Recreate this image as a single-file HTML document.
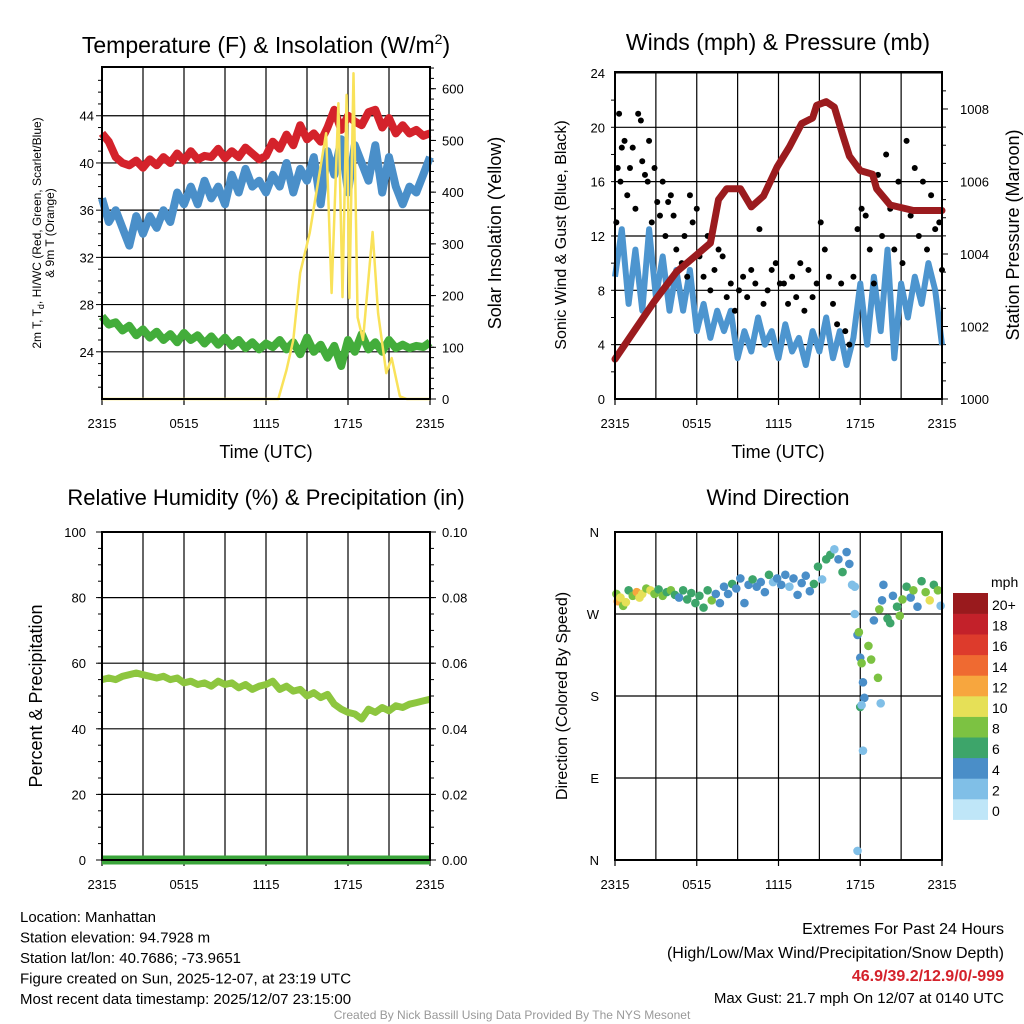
<!DOCTYPE html>
<html><head><meta charset="utf-8"><style>
html,body{margin:0;padding:0;background:#fff;}
svg{display:block;font-family:"Liberation Sans",sans-serif;}
</style></head><body>
<svg id="s" width="1024" height="1024" viewBox="0 0 1024 1024" xmlns="http://www.w3.org/2000/svg"></svg>
<script>
// ---------- DATA ----------
const hours = [0,.5,1,1.5,2,2.5,3,3.5,4,4.5,5,5.5,6,6.5,7,7.5,8,8.5,9,9.5,10,10.5,11,11.5,12,12.5,13,13.5,14,14.5,15,15.5,16,16.5,17,17.5,18,18.5,19,19.5,20,20.5,21,21.5,22,22.5,23,23.5,24];
const xTickLabels = ["2315","0515","1115","1715","2315"];
const tempRed = [42.5,41.8,40.5,40,39.8,40.2,39.6,40.3,39.8,40.5,40,40.8,40.2,41,40.3,40.6,40.5,41.2,40.4,41,40.5,41.3,40.8,40.3,40.6,41.8,41.2,42.4,41.5,43.2,42,42.5,41.8,43,44.5,42.8,44,43.5,43.2,44.3,44.5,43,43.8,42.5,43.2,42.5,42.8,42.3,42.5];
const tempBlue = [37,35,36,34.5,33,35.5,34,35.5,34.5,36,35,37.5,36.5,38,36.5,38.5,37,38,36.5,39,37.5,39.5,38,38.5,37.5,39,38,40,37.5,39.5,38.5,40.5,36.5,41,39,42,37.5,41.5,40,38.5,41.5,37.5,40.5,38,36.5,38,37.5,39,40.5];
const dewGreen = [27,26.3,26.5,25.8,26.2,25.4,25.9,25.2,25.7,25,25.5,24.8,25.6,25,25.4,24.7,25.3,24.6,25.2,24.5,25,24.3,24.8,24.2,24.7,24.4,25,24.2,24.8,23.8,25.2,24,24.6,23.5,24.5,22.8,25,24,25.5,24.2,24.8,24,25,24.3,24.6,24.3,24.5,24.4,24.8];
const tempTicks = [24,28,32,36,40,44];
const solarTicks = [0,100,200,300,400,500,600];
const solarT = [0,12.9,13.5,14.0,14.5,15.2,16.4,16.8,17.3,17.6,17.9,18.1,18.4,18.7,19.1,19.8,20.2,20.8,21.2,21.8,22.3,24];
const solarV = [0,0,56,114,244,321,514,205,572,197,588,195,630,158,114,323,166,50,79,5,0,0];
const windBlue = [9,12.5,7,11,6.5,12.5,7.5,10.5,6.5,9.5,6.5,9.5,5,7,4.5,6.5,5,6.5,3,5,3.5,6,4,5,3,5.5,3.5,4.5,2.5,5,3.5,6,3,5,2.5,4.5,8.5,4,9,5,11,3,8.5,6,9,7,10,8,4];
const pressT = [0,2.9,4.5,7.0,7.6,8.2,9.2,10.0,10.9,11.9,12.8,13.7,14.5,14.8,15.5,16.1,16.7,17.2,18.0,18.9,19.2,20.2,21.9,24];
const pressV = [1001.1,1002.7,1003.5,1004.3,1005.5,1005.8,1005.8,1005.3,1005.6,1006.4,1006.95,1007.6,1007.75,1008.1,1008.2,1008.05,1007.3,1006.7,1006.3,1006.2,1005.8,1005.35,1005.2,1005.2];
const gustT = [0.1,0.2,0.3,0.4,0.5,0.7,0.9,1.1,1.3,1.5,1.7,1.9,2.0,2.2,2.4,2.5,2.7,2.9,3.1,3.3,3.5,3.7,3.9,4.1,4.3,4.5,4.7,4.9,5.1,5.3,5.5,5.7,6.0,6.2,6.5,6.8,7.0,7.3,7.6,7.9,8.2,8.5,8.8,9.1,9.4,9.7,10.0,10.3,10.6,10.9,11.2,11.5,11.8,12.1,12.4,12.7,13.0,13.3,13.6,13.9,14.2,14.5,14.8,15.1,15.4,15.7,16.0,16.3,16.6,16.9,17.2,17.5,17.8,18.1,18.4,18.7,19.0,19.3,19.6,19.9,20.2,20.5,20.8,21.1,21.4,21.7,22.0,22.3,22.6,22.9,23.2,23.5,23.8,24];
const gustV = [13,17,21,16,18.5,19,15,17,18.5,14,21,20.5,17.5,16.5,16,19,13,17,14.5,13.5,16,12,14.5,15,13.5,11,9.5,10,12,9,15,13,14,10.5,9,12,8,9.5,11,10.5,7.5,8.5,6.5,8,9,7.5,9.5,8.5,12.5,7,8,9.5,10,8.5,8.5,7,9,7.5,10,6.5,9.5,7.5,8.5,13,11,9,7,5.5,8.5,5,4,9,12.5,14,13.5,11,8.5,16.5,12,18,14,11,16,10,19,13.5,17,12,16,11,15,12.5,13,9.5];
const windTicks = [0,4,8,12,16,20,24];
const pressTicks = [1000,1002,1004,1006,1008];
const rh = [55,55.5,55,56,56.5,57,56.5,56,55.5,56,55,55.5,54,54.5,53.5,54,53,54.5,53.5,54,52.5,53.5,52,53,53.5,54.5,52,53,51.5,52,50,51,49.5,50.5,47.5,46,45,44.5,43,46,45,46.5,45.5,47,46.5,47.5,48,48.5,49];
const precip = [0,0,0,0,0,0,0,0,0,0,0,0,0,0,0,0,0,0,0,0,0,0,0,0,0,0,0,0,0,0,0,0,0,0,0,0,0,0,0,0,0,0,0,0,0,0,0,0,0];
const rhTicks = [0,20,40,60,80,100];
const precipTicks = ["0.00","0.02","0.04","0.06","0.08","0.10"];
const dirT = [0.1,0.2,0.4,0.6,0.8,1.0,1.3,1.6,1.8,2.0,2.3,2.6,2.9,3.2,3.5,3.8,4.1,4.4,4.7,5.0,5.3,5.6,5.9,6.2,6.5,6.8,7.1,7.4,7.7,8.0,8.3,8.6,8.9,9.2,9.5,9.8,10.1,10.4,10.7,11.0,11.3,11.6,11.9,12.2,12.5,12.8,13.1,13.4,13.7,14.0,14.3,14.6,14.9,15.2,15.5,15.8,16.1,16.4,16.7,17.0,17.2,17.4,17.6,17.6,17.8,17.9,18.0,18.1,18.2,18.3,18.0,18.1,18.2,17.8,18.6,18.8,19.0,19.3,19.5,19.4,19.6,19.7,20.0,20.2,20.4,20.7,20.9,21.1,21.4,21.7,21.9,22.2,22.5,22.8,23.1,23.4,23.7,23.9];
const dirD = [292,284,288,279,283,296,290,294,288,292,298,296,292,297,290,294,296,291,288,296,286,293,282,290,277,296,285,292,282,300,292,303,298,309,282,302,308,300,305,294,313,305,309,302,313,300,309,291,304,312,295,303,322,308,330,335,341,330,316,338,325,302,300,270,247,250,222,216,195,178,168,170,120,10,235,220,263,200,172,275,285,302,265,260,290,278,268,286,300,288,296,278,306,294,285,302,296,279];
const dirS = [8,12,10,8,10,6,8,12,10,10,8,10,8,6,8,6,8,6,4,6,6,6,6,6,6,6,8,4,4,4,4,6,4,4,4,4,6,4,4,4,6,2,4,4,4,2,4,4,4,4,4,6,6,2,6,6,2,4,6,4,4,2,2,2,4,8,4,8,4,4,6,2,2,2,8,8,4,8,2,8,4,4,6,6,4,6,8,8,6,4,8,4,6,8,10,6,8,2];
const dirTicks = ["N","E","S","W","N"];
const cbLabels = ["0","2","4","6","8","10","12","14","16","18","20+"];
const cbColors = ["#bfe6f8","#80bfe7","#4a8ec8","#3da56a","#7cc242","#e6e057","#f7a63e","#ef6a31","#dd3b2c","#c3212a","#991a1d"];

// ---------- HELPERS ----------
const S = document.getElementById('s');
const NS = 'http://www.w3.org/2000/svg';
function mk(tag, attrs, parent){const e=document.createElementNS(NS,tag);for(const k in attrs)e.setAttribute(k,attrs[k]);(parent||S).appendChild(e);return e;}
function txt(x,y,s,size,anchor,parent,extra){const e=mk('text',Object.assign({x:x,y:y,'font-size':size,'text-anchor':anchor||'middle',fill:'#000'},extra||{}),parent);e.textContent=s;return e;}
function lin(a,b,c,d){return v=>c+(v-a)*(d-c)/(b-a);}
function pathFrom(xs,ys,fx,fy){return xs.map((t,i)=>(i?'L':'M')+fx(t).toFixed(1)+' '+fy(ys[i]).toFixed(1)).join(' ');}

function frame(g,x0,x1,y0,y1,fx){
  for(let h=0;h<=24;h+=3){mk('line',{x1:fx(h),x2:fx(h),y1:y0,y2:y1,stroke:'#000','stroke-width':1.2},g);}
  xTickLabels.forEach((s,i)=>{
    const t=txt(fx(i*6),y1+29,s,13,'middle',g);
    
    
    mk('line',{x1:fx(i*6),x2:fx(i*6),y1:y1,y2:y1+6,stroke:'#000','stroke-width':1.2},g);
  });
}
function border(g,x0,x1,y0,y1){mk('rect',{x:x0,y:y0,width:x1-x0,height:y1-y0,fill:'none',stroke:'#000','stroke-width':2},g);}

// ---------- PANEL 1 ----------
(function(){
  const g=mk('g',{});
  
  
  const x0=102,x1=430,y0=67,y1=399;
  const fx=lin(0,24,x0,x1), fy=lin(20,48.13,y1,y0), fs=lin(0,642,y1,y0);
  frame(g,x0,x1,y0,y1,fx);
  tempTicks.forEach(v=>{
    mk('line',{x1:x0,x2:x1,y1:fy(v),y2:fy(v),stroke:'#000','stroke-width':1.2},g);
    const t=txt(x0-8,fy(v)+5,String(v),13,'end',g);
    
    
  });
  for(let v=21;v<48;v++){mk('line',{x1:x0,x2:x0-(v%4==0?6:4),y1:fy(v),y2:fy(v),stroke:'#000'},g);}
  solarTicks.forEach(v=>{
    const t=txt(x1+12,fs(v)+5,String(v),13,'start',g);
    
    
    mk('line',{x1:x1,x2:x1+6,y1:fs(v),y2:fs(v),stroke:'#000'},g);
  });
  for(let v=20;v<642;v+=20){mk('line',{x1:x1,x2:x1+4,y1:fs(v),y2:fs(v),stroke:'#000'},g);}
  let p=mk('path',{d:pathFrom(hours,tempRed,fx,fy),fill:'none',stroke:'#d4222b','stroke-width':8,'stroke-linejoin':'round'},g);
  
  
  p=mk('path',{d:pathFrom(hours,tempBlue,fx,fy),fill:'none',stroke:'#4a8fc9','stroke-width':8,'stroke-linejoin':'round'},g);
  
  
  p=mk('path',{d:pathFrom(hours,dewGreen,fx,fy),fill:'none',stroke:'#43ad3b','stroke-width':8,'stroke-linejoin':'round'},g);
  
  
  p=mk('path',{d:pathFrom(solarT,solarV,fx,fs),fill:'none',stroke:'#f9e25a','stroke-width':2.5,'stroke-linejoin':'round'},g);
  
  
  border(g,x0,x1,y0,y1);
  let t=txt(266,53,'Temperature (F) & Insolation (W/m',23,'middle',g);
  const sup=mk('tspan',{'font-size':14,dy:-9},t);sup.textContent='2';
  const cl=mk('tspan',{dy:9},t);cl.textContent=')';
  
  
  t=txt(266,458,'Time (UTC)',18,'middle',g);
  
  
  t=txt(0,0,'Solar Insolation (Yellow)',18,'middle',g,{transform:'translate(501,233) rotate(-90)'});
  
  
  t=txt(0,0,'',12,'middle',g,{transform:'translate(41,233) rotate(-90)'});
  const a=mk('tspan',{},t);a.textContent='2m T, T';
  const b=mk('tspan',{'font-size':9,dy:3},t);b.textContent='d';
  const c=mk('tspan',{dy:-3},t);c.textContent=', HI/WC (Red, Green, Scarlet/Blue)';
  
  
  t=txt(0,0,'& 9m T (Orange)',12,'middle',g,{transform:'translate(54,233) rotate(-90)'});
  
  
})();

// ---------- PANEL 2 ----------
(function(){
  const g=mk('g',{});
  
  
  const x0=615,x1=942,y0=72,y1=399;
  const fx=lin(0,24,x0,x1), fy=lin(0,24.07,y1,y0), fp=lin(1000,1009.02,y1,y0);
  frame(g,x0,x1,y0,y1,fx);
  windTicks.forEach(v=>{
    mk('line',{x1:x0,x2:x1,y1:fy(v),y2:fy(v),stroke:'#000','stroke-width':1.2},g);
    const t=txt(x0-10,fy(v)+5,String(v),13,'end',g);
    
    
  });
  for(let v=2;v<24;v+=2){mk('line',{x1:x0,x2:x0-4,y1:fy(v),y2:fy(v),stroke:'#000'},g);}
  pressTicks.forEach(v=>{
    const t=txt(x1+18,fp(v)+5,String(v),13,'start',g);
    
    
    mk('line',{x1:x1,x2:x1+6,y1:fp(v),y2:fp(v),stroke:'#000'},g);
  });
  for(let v=1000.5;v<1009;v+=0.5){mk('line',{x1:x1,x2:x1+4,y1:fp(v),y2:fp(v),stroke:'#000'},g);}
  let p=mk('path',{d:pathFrom(hours,windBlue,fx,fy),fill:'none',stroke:'#4d95cf','stroke-width':6,'stroke-linejoin':'round'},g);
  
  
  gustT.forEach((t,i)=>{
    const c=mk('circle',{cx:fx(t),cy:fy(gustV[i]),r:3,fill:'#000'},g);
    
    
  });
  p=mk('path',{d:pathFrom(pressT,pressV,fx,fp),fill:'none',stroke:'#9b1b1e','stroke-width':7,'stroke-linejoin':'round','stroke-linecap':'round'},g);
  
  
  border(g,x0,x1,y0,y1);
  let t=txt(778,50,'Winds (mph) & Pressure (mb)',23,'middle',g);
  
  
  t=txt(778,458,'Time (UTC)',18,'middle',g);
  
  
  t=txt(0,0,'Sonic Wind & Gust (Blue, Black)',16,'middle',g,{transform:'translate(566,235) rotate(-90)'});
  
  
  t=txt(0,0,'Station Pressure (Maroon)',18,'middle',g,{transform:'translate(1019,235) rotate(-90)'});
  
  
})();

// ---------- PANEL 3 ----------
(function(){
  const g=mk('g',{});
  
  
  const x0=102,x1=430,y0=532,y1=860;
  const fx=lin(0,24,x0,x1), fy=lin(0,100,y1,y0), fq=lin(0,0.1,y1,y0);
  frame(g,x0,x1,y0,y1,fx);
  rhTicks.forEach((v,i)=>{
    mk('line',{x1:x0,x2:x1,y1:fy(v),y2:fy(v),stroke:'#000','stroke-width':1.2},g);
    let t=txt(x0-16,fy(v)+5,String(v),13,'end',g);
    
    
    t=txt(x1+12,fy(v)+5,precipTicks[i],13,'start',g);
    
    
    mk('line',{x1:x0,x2:x0-6,y1:fy(v),y2:fy(v),stroke:'#000'},g);
    mk('line',{x1:x1,x2:x1+6,y1:fy(v),y2:fy(v),stroke:'#000'},g);
  });
  for(let v=5;v<100;v+=5){mk('line',{x1:x0,x2:x0-4,y1:fy(v),y2:fy(v),stroke:'#000'},g);mk('line',{x1:x1,x2:x1+4,y1:fy(v),y2:fy(v),stroke:'#000'},g);}
  let p=mk('path',{d:pathFrom(hours,rh,fx,fy),fill:'none',stroke:'#8dc63f','stroke-width':7,'stroke-linejoin':'round'},g);
  
  
  p=mk('path',{d:pathFrom(hours,precip,fx,fq),fill:'none',stroke:'#3ba53b','stroke-width':9},g);
  
  
  border(g,x0,x1,y0,y1);
  let t=txt(266,505,'Relative Humidity (%) & Precipitation (in)',22,'middle',g);
  
  
  t=txt(0,0,'Percent & Precipitation',18,'middle',g,{transform:'translate(42,696) rotate(-90)'});
  
  
})();

// ---------- PANEL 4 ----------
(function(){
  const g=mk('g',{});
  
  
  const x0=615,x1=942,y0=532,y1=860;
  const fx=lin(0,24,x0,x1), fy=lin(0,360,y1,y0);
  frame(g,x0,x1,y0,y1,fx);
  dirTicks.forEach((s,i)=>{
    mk('line',{x1:x0,x2:x1,y1:fy(i*90),y2:fy(i*90),stroke:'#000','stroke-width':1.2},g);
    const t=txt(x0-16,fy(i*90)+5,s,13,'end',g);
    
    
  });
  dirT.forEach((t,i)=>{
    const bin=Math.min(10,Math.floor(dirS[i]/2));
    const c=mk('circle',{cx:fx(t),cy:fy(dirD[i]),r:4.3,fill:cbColors[bin]},g);
    
    
  });
  border(g,x0,x1,y0,y1);
  const cb=mk('g',{},g);
  
  
  const cbTop=593,cbH=20.6;
  cbLabels.forEach((s,i)=>{
    const y=cbTop+(10-i)*cbH;
    const r=mk('rect',{x:953,y:y,width:35,height:cbH+0.3,fill:cbColors[i]},cb);
    
    
    const t=txt(992,y+17,s,14,'start',cb);
    
    
  });
  let t=txt(991,587,'mph',14,'start',g);
  
  
  t=txt(778,505,'Wind Direction',22,'middle',g);
  
  
  t=txt(0,0,'Direction (Colored By Speed)',16,'middle',g,{transform:'translate(567,696) rotate(-90)'});
  
  
})();

// ---------- FOOTER ----------
(function(){
  const g=mk('g',{});
  
  
  const left=["Location: Manhattan","Station elevation: 94.7928 m","Station lat/lon: 40.7686; -73.9651","Figure created on Sun, 2025-12-07, at 23:19 UTC","Most recent data timestamp: 2025/12/07 23:15:00"];
  left.forEach((s,i)=>{const t=txt(20,922+i*20.5,s,15,'start',g);
    
    });
  let t=txt(1004,934,'Extremes For Past 24 Hours',16,'end',g);
  
  
  t=txt(1004,958,'(High/Low/Max Wind/Precipitation/Snow Depth)',16,'end',g);
  
  
  t=txt(1004,981,'46.9/39.2/12.9/0/-999',16,'end',g,{fill:'#d4222b','font-weight':'bold'});
  
  
  t=txt(1004,1003,'Max Gust: 21.7 mph On 12/07 at 0140 UTC',15,'end',g);
  
  
  t=txt(512,1019,'Created By Nick Bassill Using Data Provided By The NYS Mesonet',12,'middle',g,{fill:'#999'});
  
  
})();
</script>
</body></html>
